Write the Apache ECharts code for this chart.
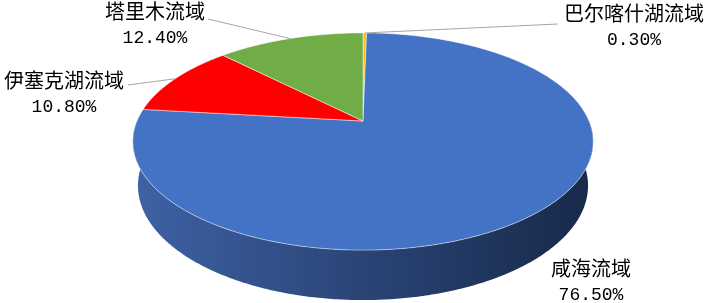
<!DOCTYPE html>
<html><head><meta charset="utf-8">
<script src="https://cdn.jsdelivr.net/npm/echarts@6/dist/echarts.min.js"></script>
<style>html,body{margin:0;padding:0;background:#fff}#c{width:708px;height:303px}</style>
</head><body><div id="c"></div>
<script>
// ---- data ----
const categories = ['巴尔喀什湖流域', '咸海流域', '伊塞克湖流域', '塔里木流域'];
const shares = [0.3, 76.5, 10.8, 12.4];
const valueLabels = ['0.30%', '76.50%', '10.80%', '12.40%'];

// ---- style / layout ----
const topColors = ['#FFC000', '#4472C4', '#FF0000', '#70AD47'];
const W = 708, H = 303, CX = 363, CY = 121, K = 226;
const D = 4.69, ALPHA = 27.6 * Math.PI / 180, DEPTH = 0.222;
const sinA = Math.sin(ALPHA), cosA = Math.cos(ALPHA);
const labelNamePos = [[634, 13], [591, 268], [64, 80], [155, 11]];
const leaderEnds = [[558, 24], null, [128, 85], [208, 19]];

function proj(X, Y, Z) {
  const w = D - Y * cosA - Z * sinA;
  return [D * X / w, D * (Y * sinA - Z * cosA) / w];
}
const total = shares.reduce((a, b) => a + b, 0);
function sliceAngles(i) {
  let s = 0;
  for (let j = 0; j < i; j++) s += shares[j];
  return [s / total * 2 * Math.PI, (s + shares[i]) / total * 2 * Math.PI];
}
function rim(a, Z) { return proj(Math.sin(a), -Math.cos(a), Z); }

const data = shares.map((v, i) => ({ name: categories[i], value: [0, 0, v] }));

function renderSide(params, api) {
  const i = params.dataIndex;
  const [a0, a1] = sliceAngles(i);
  const lo = Math.max(a0, Math.PI / 2), hi = Math.min(a1, 3 * Math.PI / 2);
  if (hi <= lo) return { type: 'group', children: [] };
  const n = Math.max(2, Math.ceil((hi - lo) / 0.01));
  const pts = [];
  for (let k = 0; k <= n; k++) pts.push(api.coord(rim(lo + (hi - lo) * k / n, 0)));
  for (let k = n; k >= 0; k--) pts.push(api.coord(rim(lo + (hi - lo) * k / n, -DEPTH)));
  return {
    type: 'polygon', shape: { points: pts },
    style: {
      fill: new echarts.graphic.LinearGradient(0, 0, 1, 0, [
        { offset: 0, color: '#3e62a6' },
        { offset: 0.5, color: '#2a4476' },
        { offset: 1, color: '#182949' }
      ])
    }
  };
}
function renderTop(params, api) {
  const i = params.dataIndex;
  const [a0, a1] = sliceAngles(i);
  const n = Math.max(2, Math.ceil((a1 - a0) / 0.01));
  const pts = [api.coord(proj(0, 0, 0))];
  for (let k = 0; k <= n; k++) pts.push(api.coord(rim(a0 + (a1 - a0) * k / n, 0)));
  return {
    type: 'polygon', shape: { points: pts },
    style: { fill: topColors[i], stroke: 'rgba(255,255,255,0.8)', lineWidth: 0.6 }
  };
}
function renderLabel(params, api) {
  const i = params.dataIndex;
  const [a0, a1] = sliceAngles(i);
  const mid = api.coord(rim((a0 + a1) / 2, 0));
  const p = labelNamePos[i];
  const children = [];
  if (leaderEnds[i]) {
    children.push({ type: 'polyline', shape: { points: [mid, leaderEnds[i]] },
      style: { stroke: '#a6a6a6', lineWidth: 1, fill: null } });
  }
  children.push({ type: 'text', style: { text: categories[i], x: p[0], y: p[1],
    align: 'center', verticalAlign: 'middle', fill: '#000', font: '20px "Noto Sans CJK SC"' } });
  children.push({ type: 'text', style: { text: valueLabels[i], x: p[0], y: p[1] + 27,
    align: 'center', verticalAlign: 'middle', fill: '#000', font: '18px "Liberation Mono"' } });
  return { type: 'group', children };
}

const chart = echarts.init(document.getElementById('c'));
chart.setOption({
  animation: false,
  grid: { left: 0, right: 0, top: 0, bottom: 0 },
  xAxis: { type: 'value', min: -CX / K, max: (W - CX) / K, show: false },
  yAxis: { type: 'value', inverse: true, min: -CY / K, max: (H - CY) / K, show: false },
  series: [
    { type: 'custom', z: 1, renderItem: renderSide, data, silent: true },
    { type: 'custom', z: 2, renderItem: renderTop, data, silent: true },
    { type: 'custom', z: 3, renderItem: renderLabel, data, silent: true }
  ]
});
</script></body></html>
